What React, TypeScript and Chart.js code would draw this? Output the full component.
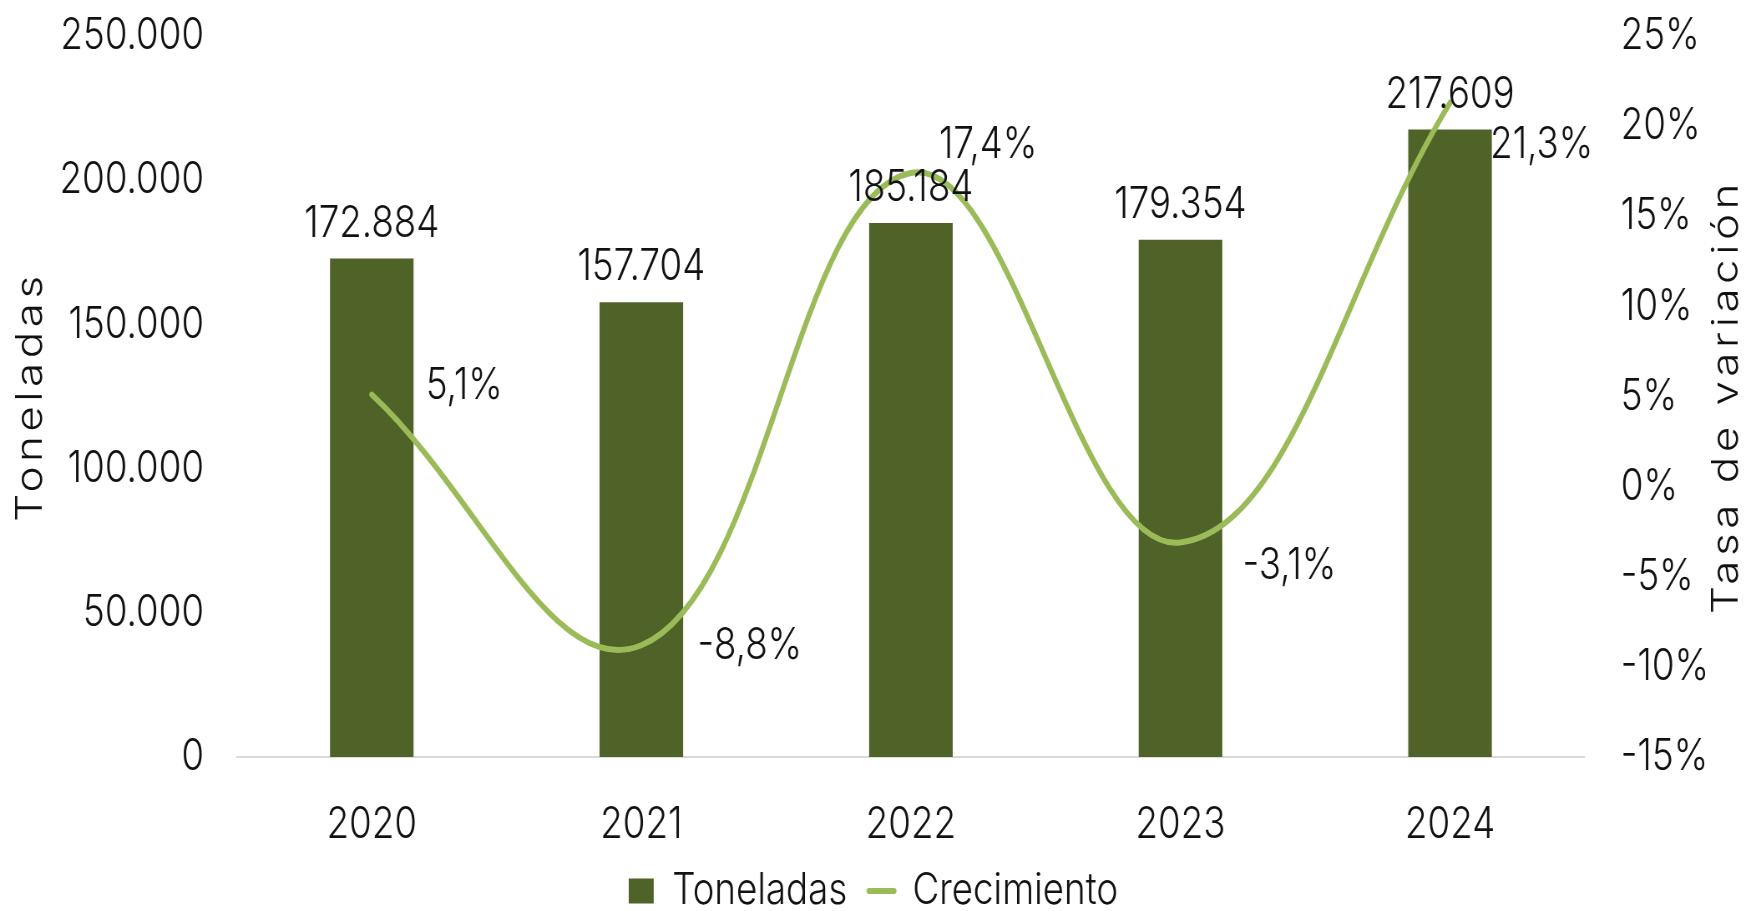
import { useEffect, useRef } from "react";
import { Chart, registerables } from "chart.js";

Chart.register(...registerables);

// ---- data ----
const years = ["2020", "2021", "2022", "2023", "2024"];
const toneladas = [172884, 157704, 185184, 179354, 217609];
const crecimiento = [5.1, -8.8, 17.4, -3.1, 21.3];
const leftAxisTitle = "Toneladas";
const rightAxisTitle = "Tasa de variación";

// ---- look ----
const K = 0.835; // horizontal squeeze of the reference picture
const W = Math.round(1747 / K);
const H = 911;
const FONT = "Inter, 'Noto Sans', sans-serif";
const WEIGHT = "300";
const FS = 44;
const TEXT = "#111111";
const BAR = "#4F6228";
const LINE = "#9BBB59";
const barLabelLift = 35;
const lineLabelOffsets = [
  [54, -9],
  [56, 1],
  [28, -28],
  [62, 23],
  [40, 42],
];

function fmtThousands(v: number) {
  const s = Math.round(Math.abs(v)).toString();
  const r = s.replace(/\B(?=(\d{3})+(?!\d))/g, ".");
  return (v < 0 ? "-" : "") + r;
}
function fmtPct(v: number) {
  return v.toFixed(1).replace(".", ",") + "%";
}

const font = { family: FONT, size: FS, weight: WEIGHT as any, lineHeight: 1.2 };

const labelPlugin = {
  id: "valueLabels",
  afterDatasetsDraw(chart: any) {
    const ctx = chart.ctx as CanvasRenderingContext2D;
    ctx.save();
    ctx.font = `${WEIGHT} ${FS}px ${FONT}`;
    ctx.fillStyle = TEXT;
    ctx.textBaseline = "middle";
    ctx.textAlign = "center";
    chart.getDatasetMeta(0).data.forEach((el: any, i: number) => {
      ctx.fillText(fmtThousands(toneladas[i]), el.x, el.y - barLabelLift);
    });
    ctx.textAlign = "left";
    chart.getDatasetMeta(1).data.forEach((el: any, i: number) => {
      const [dx, dy] = lineLabelOffsets[i];
      ctx.fillText(fmtPct(crecimiento[i]), el.x + dx / K, el.y + dy);
    });
    ctx.restore();
  },
  afterDraw(chart: any) {
    const ctx = chart.ctx as CanvasRenderingContext2D;
    const area = chart.chartArea;
    const cy = (area.top + area.bottom) / 2;
    const draw = (text: string, x: number) => {
      ctx.save();
      ctx.font = `${WEIGHT} ${FS}px ${FONT}`;
      (ctx as any).letterSpacing = "4.5px";
      ctx.fillStyle = TEXT;
      ctx.textAlign = "center";
      ctx.textBaseline = "middle";
      ctx.translate(x, cy);
      ctx.rotate(-Math.PI / 2);
      ctx.fillText(text, 0, 0);
      ctx.restore();
    };
    draw(leftAxisTitle, chart.scales.y.left + 31 / K);
    draw(rightAxisTitle, chart.scales.y1.left + (1727 - 1585) / K);
  },
};

export default function App() {
  const ref = useRef<HTMLCanvasElement | null>(null);

  useEffect(() => {
    if (!ref.current) return;
    const legendPad = 26;
    const legendCenter = 891;
    const legendTop = legendCenter - legendPad - FS / 2;
    const plotBottom = 757;
    const chart = new Chart(ref.current, {
      type: "bar",
      data: {
        labels: years,
        datasets: [
          {
            type: "bar",
            label: "Toneladas",
            data: toneladas,
            backgroundColor: BAR,
            yAxisID: "y",
            order: 1,
            categoryPercentage: 1,
            barPercentage: 0.31,
          },
          {
            type: "line",
            label: "Crecimiento",
            data: crecimiento,
            borderColor: LINE,
            backgroundColor: LINE,
            borderWidth: 6,
            borderCapStyle: "round",
            pointRadius: 0,
            tension: 0.4,
            yAxisID: "y1",
            order: 0,
          } as any,
        ],
      },
      options: {
        animation: false,
        responsive: true,
        maintainAspectRatio: false,
        layout: { padding: { top: 36, left: 0, right: 0, bottom: 0 } },
        plugins: {
          tooltip: { enabled: false },
          legend: {
            position: "bottom",
            maxHeight: H - legendTop,
            labels: {
              font,
              color: TEXT,
              padding: legendPad,
              usePointStyle: true,
              pointStyleWidth: 25 / K,
              boxHeight: 25,
              sort: (a: any, b: any) => a.datasetIndex - b.datasetIndex,
              generateLabels: (c: any) => {
                const items = (Chart.defaults.plugins.legend.labels as any).generateLabels(c);
                items.forEach((it: any) => {
                  if (it.datasetIndex === 0) {
                    it.pointStyle = "rect";
                    it.lineWidth = 0;
                    it.fillStyle = BAR;
                    it.strokeStyle = "rgba(0,0,0,0)";
                  } else {
                    it.pointStyle = "line";
                    it.lineWidth = 6;
                    it.lineCap = "round";
                    it.strokeStyle = LINE;
                    it.fillStyle = LINE;
                  }
                });
                return items;
              },
            },
          } as any,
        },
        scales: {
          x: {
            grid: { display: false, drawTicks: false },
            border: { display: true, color: "#D9D9D9", width: 2 },
            ticks: { font, color: TEXT, padding: 41 },
            afterFit: (s: any) => {
              s.height = legendTop - plotBottom;
            },
          },
          y: {
            position: "left",
            min: 0,
            max: 250000,
            grid: { display: false, drawTicks: false },
            border: { display: false },
            ticks: {
              stepSize: 50000,
              font,
              color: TEXT,
              padding: 33 / K,
              callback: (v: any) => fmtThousands(Number(v)),
            },
            afterFit: (s: any) => {
              s.width = 237 / K;
              s.paddingTop = 0;
              s.paddingBottom = 0;
            },
          },
          y1: {
            position: "right",
            min: -15,
            max: 25,
            grid: { display: false, drawTicks: false },
            border: { display: false },
            ticks: {
              stepSize: 5,
              font,
              color: TEXT,
              padding: 36 / K,
              callback: (v: any) => `${v}%`,
            },
            afterFit: (s: any) => {
              s.width = 162 / K;
              s.paddingTop = 0;
              s.paddingBottom = 0;
            },
          },
        },
      } as any,
      plugins: [labelPlugin],
    });
    return () => chart.destroy();
  }, []);

  return (
    <div
      style={{
        position: "fixed",
        left: 0,
        top: 0,
        width: 1747,
        height: H,
        overflow: "hidden",
        background: "#ffffff",
      }}
    >
      <div
        style={{
          width: W,
          height: H,
          transform: `scaleX(${K})`,
          transformOrigin: "0 0",
        }}
      >
        <canvas ref={ref} />
      </div>
    </div>
  );
}
